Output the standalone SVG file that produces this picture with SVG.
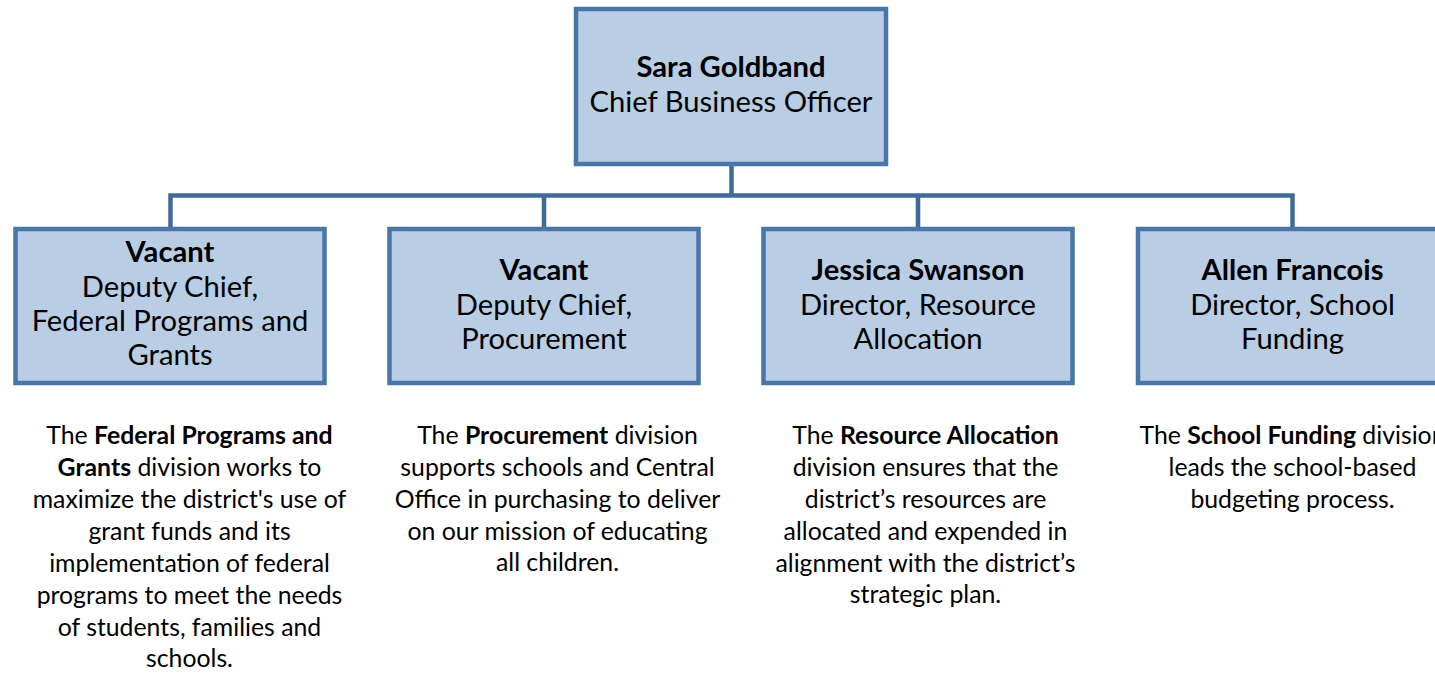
<svg xmlns="http://www.w3.org/2000/svg" width="1435" height="673" viewBox="0 0 1435 673">
<style>
.box{fill:#b9cde5;stroke:#4a75a8;stroke-width:4.5}
.conn{fill:none;stroke:#41699c;stroke-width:4.5}
.t{font-family:Lato,"Open Sans",sans-serif;fill:#000;text-anchor:middle;font-size:29.2px}
.d{font-family:Lato,"Open Sans",sans-serif;fill:#000;text-anchor:middle;font-size:24.8px}
.b{font-weight:bold}
</style>
<rect width="1435" height="673" fill="#fff"/>
<g id="connectors">
<path class="conn" d="M731.5 164V195.5M170.5 229V195.5H1292.5V229M544 195.5V229M918 195.5V229"/>
</g>
<g id="n0">
<rect class="box" x="576" y="9" width="310" height="155"/>
<text class="t" x="731" y="77"><tspan class="b">Sara Goldband</tspan></text>
<text class="t" x="731" y="112">Chief Business Officer</text>
</g>
<g id="n1">
<rect class="box" x="15.5" y="229" width="309" height="154"/>
<text class="t" x="170" y="262"><tspan class="b">Vacant</tspan></text>
<text class="t" x="170" y="296.5">Deputy Chief,</text>
<text class="t" x="170" y="331">Federal Programs and</text>
<text class="t" x="170" y="365">Grants</text>
</g>
<g id="n2">
<rect class="box" x="389.5" y="229" width="309" height="154"/>
<text class="t" x="544" y="280"><tspan class="b">Vacant</tspan></text>
<text class="t" x="544" y="314.5">Deputy Chief,</text>
<text class="t" x="544" y="349">Procurement</text>
</g>
<g id="n3">
<rect class="box" x="763.5" y="229" width="309" height="154"/>
<text class="t" x="918" y="280"><tspan class="b">Jessica Swanson</tspan></text>
<text class="t" x="918" y="314.5">Director, Resource</text>
<text class="t" x="918" y="349">Allocation</text>
</g>
<g id="n4">
<rect class="box" x="1138" y="229" width="309" height="154"/>
<text class="t" x="1292.5" y="280"><tspan class="b">Allen Francois</tspan></text>
<text class="t" x="1292.5" y="314.5">Director, School</text>
<text class="t" x="1292.5" y="349">Funding</text>
</g>
<g id="desc1">
<text class="d" x="189.5" y="443.5">The <tspan class="b">Federal Programs and</tspan></text>
<text class="d" x="189.5" y="475.5"><tspan class="b">Grants</tspan> division works to</text>
<text class="d" x="189.5" y="507.5">maximize the district's use of</text>
<text class="d" x="189.5" y="539.5">grant funds and its</text>
<text class="d" x="189.5" y="571.5">implementation of federal</text>
<text class="d" x="189.5" y="603.5">programs to meet the needs</text>
<text class="d" x="189.5" y="635.5">of students, families and</text>
<text class="d" x="189.5" y="667">schools.</text>
</g>
<g id="desc2">
<text class="d" x="557.5" y="443.5">The <tspan class="b">Procurement</tspan> division</text>
<text class="d" x="557.5" y="475.5">supports schools and Central</text>
<text class="d" x="557.5" y="507.5">Office in purchasing to deliver</text>
<text class="d" x="557.5" y="539.5">on our mission of educating</text>
<text class="d" x="557.5" y="571">all children.</text>
</g>
<g id="desc3">
<text class="d" x="925.5" y="443.5">The <tspan class="b">Resource Allocation</tspan></text>
<text class="d" x="925.5" y="475.5">division ensures that the</text>
<text class="d" x="925.5" y="507.5">district’s resources are</text>
<text class="d" x="925.5" y="539.5">allocated and expended in</text>
<text class="d" x="925.5" y="571.5">alignment with the district’s</text>
<text class="d" x="925.5" y="603">strategic plan.</text>
</g>
<g id="desc4">
<text class="d" x="1292.5" y="443.5">The <tspan class="b">School Funding</tspan> division</text>
<text class="d" x="1292.5" y="475.5">leads the school-based</text>
<text class="d" x="1292.5" y="507.5">budgeting process.</text>
</g>
</svg>
